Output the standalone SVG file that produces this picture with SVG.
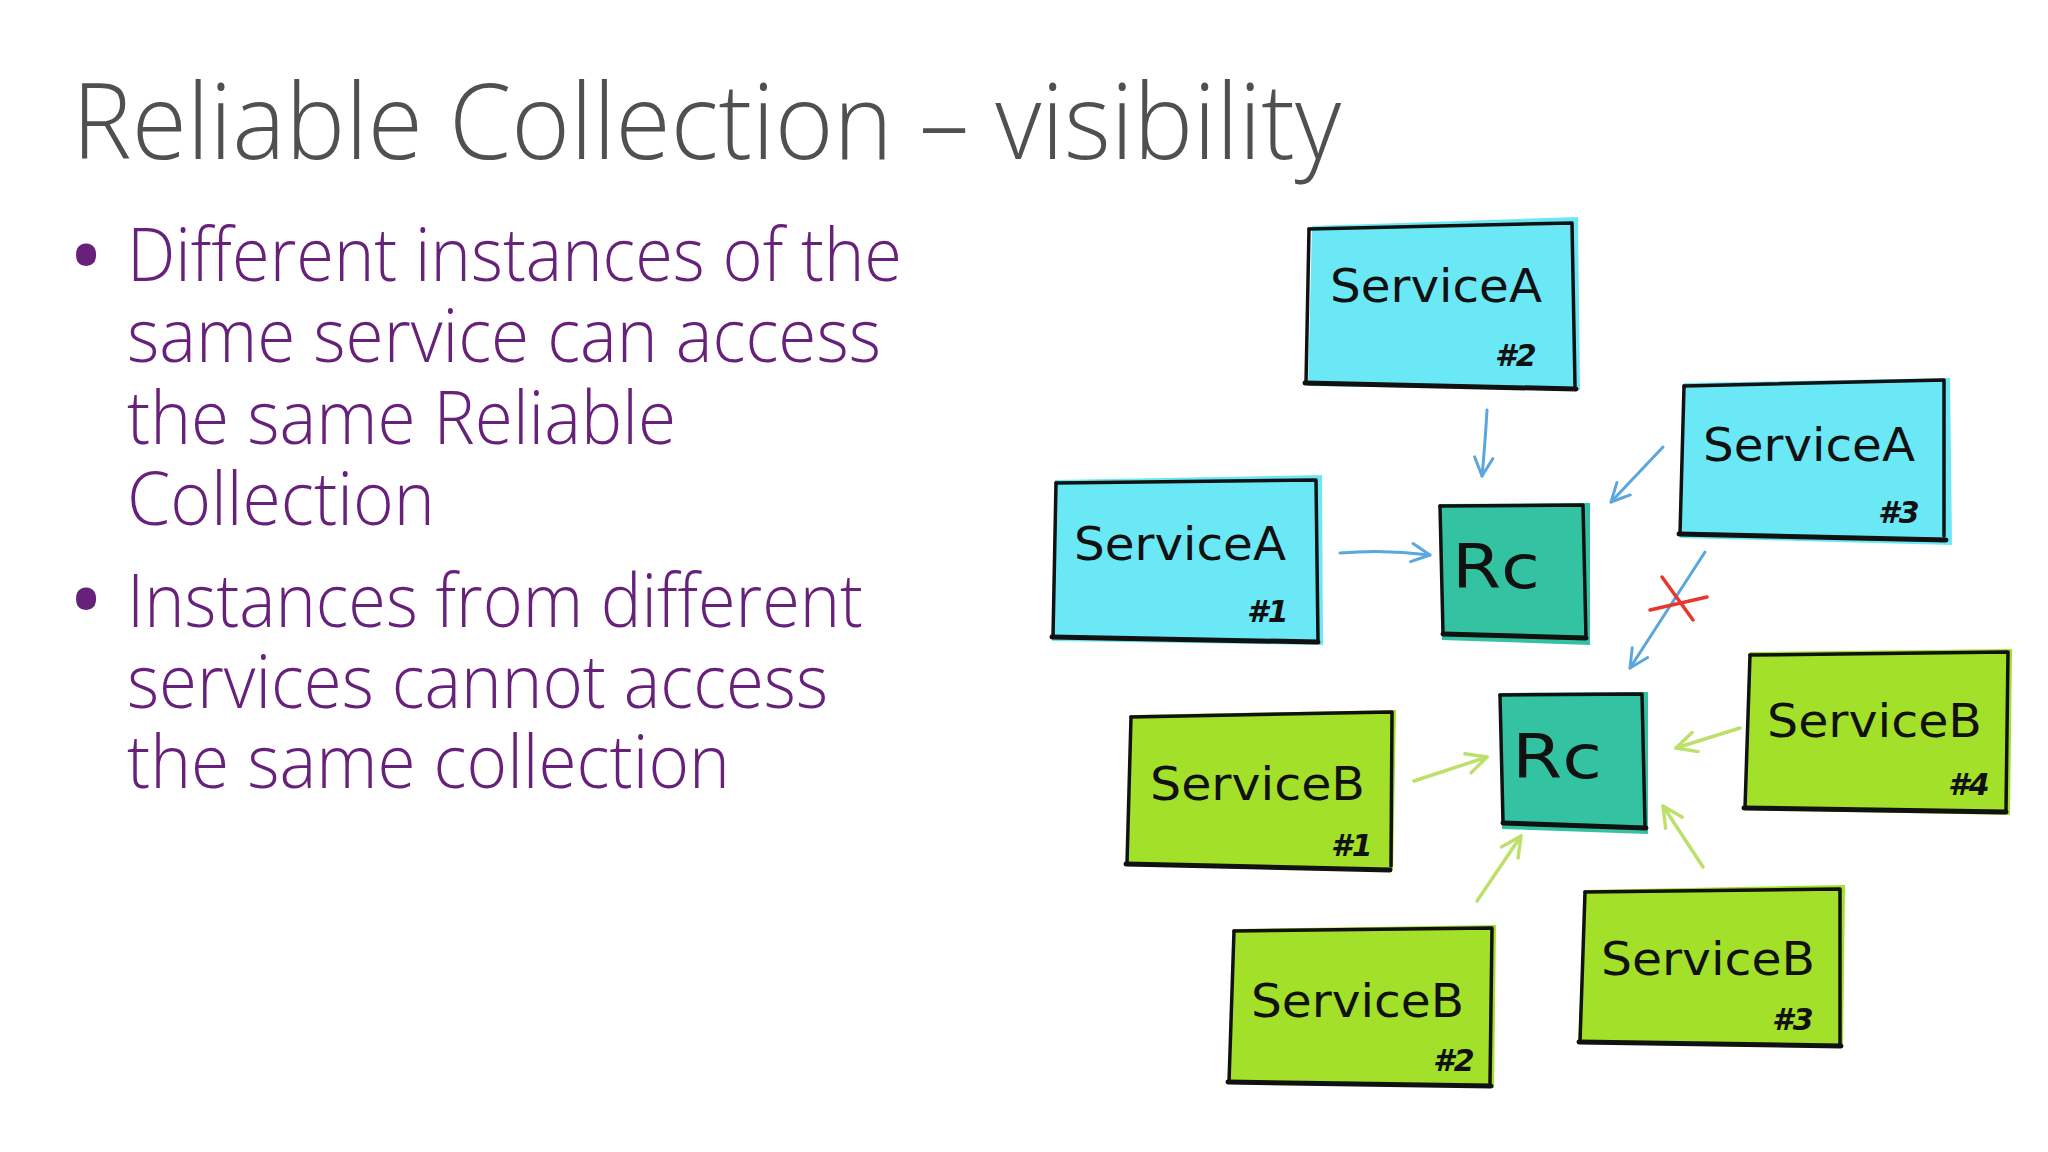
<svg xmlns="http://www.w3.org/2000/svg" width="2048" height="1152" viewBox="0 0 2048 1152">
<style>
.title{font-family:"Open Sans","Lato","Liberation Sans",sans-serif;font-weight:300;font-size:106px;fill:#505050}
.bul{font-family:"Open Sans","Lato","Liberation Sans",sans-serif;font-weight:300;font-size:74px;fill:#68217A}
.dot{font-family:"Open Sans","Lato","Liberation Sans",sans-serif;font-size:96px;fill:#68217A}
.hand{font-family:"DejaVu Sans","Liberation Sans",sans-serif;font-size:46px;fill:#111}
.num{font-family:"DejaVu Sans","Liberation Sans",sans-serif;font-size:30px;font-weight:bold;font-style:italic;fill:#111}
.rc{font-family:"DejaVu Sans","Liberation Sans",sans-serif;font-size:60px;fill:#111}
.edge{fill:none;stroke:#111;stroke-width:3.5;stroke-linejoin:round;stroke-linecap:round}
.base{fill:none;stroke:#111;stroke-width:5;stroke-linecap:round}
.cyan{fill:#6BE8F6}
.green{fill:#A3E02A}
.teal{fill:#33C3A3}
.ab{fill:none;stroke:#5AA6DE;stroke-width:3;stroke-linecap:round}
.ag{fill:none;stroke:#BCE06A;stroke-width:3.5;stroke-linecap:round}
</style>
<defs>
<marker id="hb" viewBox="0 0 12 12" refX="11" refY="6" markerWidth="22" markerHeight="22" markerUnits="userSpaceOnUse" orient="auto">
<path d="M1,1 L11,6 L1,11" fill="none" stroke="#5AA6DE" stroke-width="1.6" stroke-linecap="round" stroke-linejoin="round"/>
</marker>
<marker id="hg" viewBox="0 0 12 12" refX="11" refY="6" markerWidth="24" markerHeight="24" markerUnits="userSpaceOnUse" orient="auto">
<path d="M1,1 L11,6 L1,11" fill="none" stroke="#BCE06A" stroke-width="1.7" stroke-linecap="round" stroke-linejoin="round"/>
</marker>
</defs>
<rect width="2048" height="1152" fill="#FFFFFF"/>

<g id="title">
<text class="title" x="72" y="159" textLength="1269" lengthAdjust="spacingAndGlyphs">Reliable Collection – visibility</text>
</g>

<g id="bullets">
<text class="dot" x="68" y="290">•</text>
<text class="bul" x="127" y="281" textLength="775" lengthAdjust="spacingAndGlyphs">Different instances of the</text>
<text class="bul" x="127" y="362" textLength="754" lengthAdjust="spacingAndGlyphs">same service can access</text>
<text class="bul" x="127" y="444" textLength="549" lengthAdjust="spacingAndGlyphs">the same Reliable</text>
<text class="bul" x="127" y="525" textLength="308" lengthAdjust="spacingAndGlyphs">Collection</text>
<text class="dot" x="68" y="634">•</text>
<text class="bul" x="127" y="627" textLength="736" lengthAdjust="spacingAndGlyphs">Instances from different</text>
<text class="bul" x="127" y="708" textLength="701" lengthAdjust="spacingAndGlyphs">services cannot access</text>
<text class="bul" x="127" y="788" textLength="603" lengthAdjust="spacingAndGlyphs">the same collection</text>
</g>

<g id="connectors">
<path class="ab" d="M1487,410 Q1485,445 1482,476" marker-end="url(#hb)"/>
<path class="ab" d="M1340,553 Q1385,549 1430,555" marker-end="url(#hb)"/>
<path class="ab" d="M1663,447 L1611,502" marker-end="url(#hb)"/>
<path class="ab" d="M1705,552 L1630,668" marker-end="url(#hb)"/>
<path d="M1662,577 L1693,620 M1650,610 L1707,597" fill="none" stroke="#E8382E" stroke-width="3.5" stroke-linecap="round"/>
<path class="ag" d="M1414,781 L1487,757" marker-end="url(#hg)"/>
<path class="ag" d="M1477,901 L1521,836" marker-end="url(#hg)"/>
<path class="ag" d="M1740,728 L1676,748" marker-end="url(#hg)"/>
<path class="ag" d="M1703,867 L1663,806" marker-end="url(#hg)"/>
</g>

<g id="serviceA2">
<polygon class="cyan" points="1312,226 1578,217 1580,390 1308,386"/>
<path class="edge" d="M1309,229 L1572,223 L1575,386"/>
<path class="edge" d="M1309,229 L1306,383"/>
<path class="base" d="M1305,383 L1576,389"/>
<text class="hand" x="1330" y="302" textLength="212" lengthAdjust="spacingAndGlyphs">ServiceA</text>
<text class="num" x="1495" y="366">#2</text>
</g>

<g id="serviceA3">
<polygon class="cyan" points="1684,383 1950,378 1952,545 1680,538"/>
<path class="edge" d="M1684,386 L1944,380 L1944,536"/>
<path class="edge" d="M1684,386 L1680,534"/>
<path class="base" d="M1679,534 L1946,540"/>
<text class="hand" x="1703" y="461" textLength="212" lengthAdjust="spacingAndGlyphs">ServiceA</text>
<text class="num" x="1878" y="523">#3</text>
</g>

<g id="serviceA1">
<polygon class="cyan" points="1055,480 1322,475 1323,645 1052,641"/>
<path class="edge" d="M1056,483 L1316,480 L1318,640"/>
<path class="edge" d="M1056,483 L1053,637"/>
<path class="base" d="M1052,637 L1318,642"/>
<text class="hand" x="1074" y="560" textLength="212" lengthAdjust="spacingAndGlyphs">ServiceA</text>
<text class="num" x="1247" y="622">#1</text>
</g>

<g id="rc1">
<polygon class="teal" points="1440,504 1590,503 1590,645 1442,640"/>
<path class="edge" d="M1440,506 L1583,505 L1586,638"/>
<path class="edge" d="M1440,506 L1443,633"/>
<path class="base" d="M1443,634 L1586,638"/>
<text class="rc" x="1452" y="588" textLength="88" lengthAdjust="spacingAndGlyphs">Rc</text>
</g>

<g id="rc2">
<polygon class="teal" points="1500,693 1648,692 1648,834 1502,829"/>
<path class="edge" d="M1500,695 L1642,694 L1645,826"/>
<path class="edge" d="M1500,695 L1503,822"/>
<path class="base" d="M1503,823 L1646,828"/>
<text class="rc" x="1512" y="778" textLength="90" lengthAdjust="spacingAndGlyphs">Rc</text>
</g>

<g id="serviceB1">
<polygon class="green" points="1131,715 1396,710 1393,870 1127,866"/>
<path class="edge" d="M1131,717 L1392,712 L1391,866"/>
<path class="edge" d="M1131,717 L1127,864"/>
<path class="base" d="M1126,864 L1390,870"/>
<text class="hand" x="1150" y="800" textLength="215" lengthAdjust="spacingAndGlyphs">ServiceB</text>
<text class="num" x="1331" y="856">#1</text>
</g>

<g id="serviceB4">
<polygon class="green" points="1750,652 2012,649 2010,815 1746,810"/>
<path class="edge" d="M1750,655 L2008,652 L2006,810"/>
<path class="edge" d="M1750,655 L1745,808"/>
<path class="base" d="M1744,808 L2006,812"/>
<text class="hand" x="1767" y="737" textLength="215" lengthAdjust="spacingAndGlyphs">ServiceB</text>
<text class="num" x="1948" y="795">#4</text>
</g>

<g id="serviceB2">
<polygon class="green" points="1234,929 1496,925 1494,1088 1229,1084"/>
<path class="edge" d="M1234,931 L1492,928 L1490,1083"/>
<path class="edge" d="M1234,931 L1229,1082"/>
<path class="base" d="M1228,1082 L1491,1086"/>
<text class="hand" x="1251" y="1017" textLength="213" lengthAdjust="spacingAndGlyphs">ServiceB</text>
<text class="num" x="1433" y="1071">#2</text>
</g>

<g id="serviceB3">
<polygon class="green" points="1585,890 1845,885 1843,1048 1578,1044"/>
<path class="edge" d="M1585,892 L1840,889 L1840,1044"/>
<path class="edge" d="M1585,892 L1580,1042"/>
<path class="base" d="M1579,1042 L1841,1046"/>
<text class="hand" x="1601" y="975" textLength="214" lengthAdjust="spacingAndGlyphs">ServiceB</text>
<text class="num" x="1772" y="1030">#3</text>
</g>
</svg>
